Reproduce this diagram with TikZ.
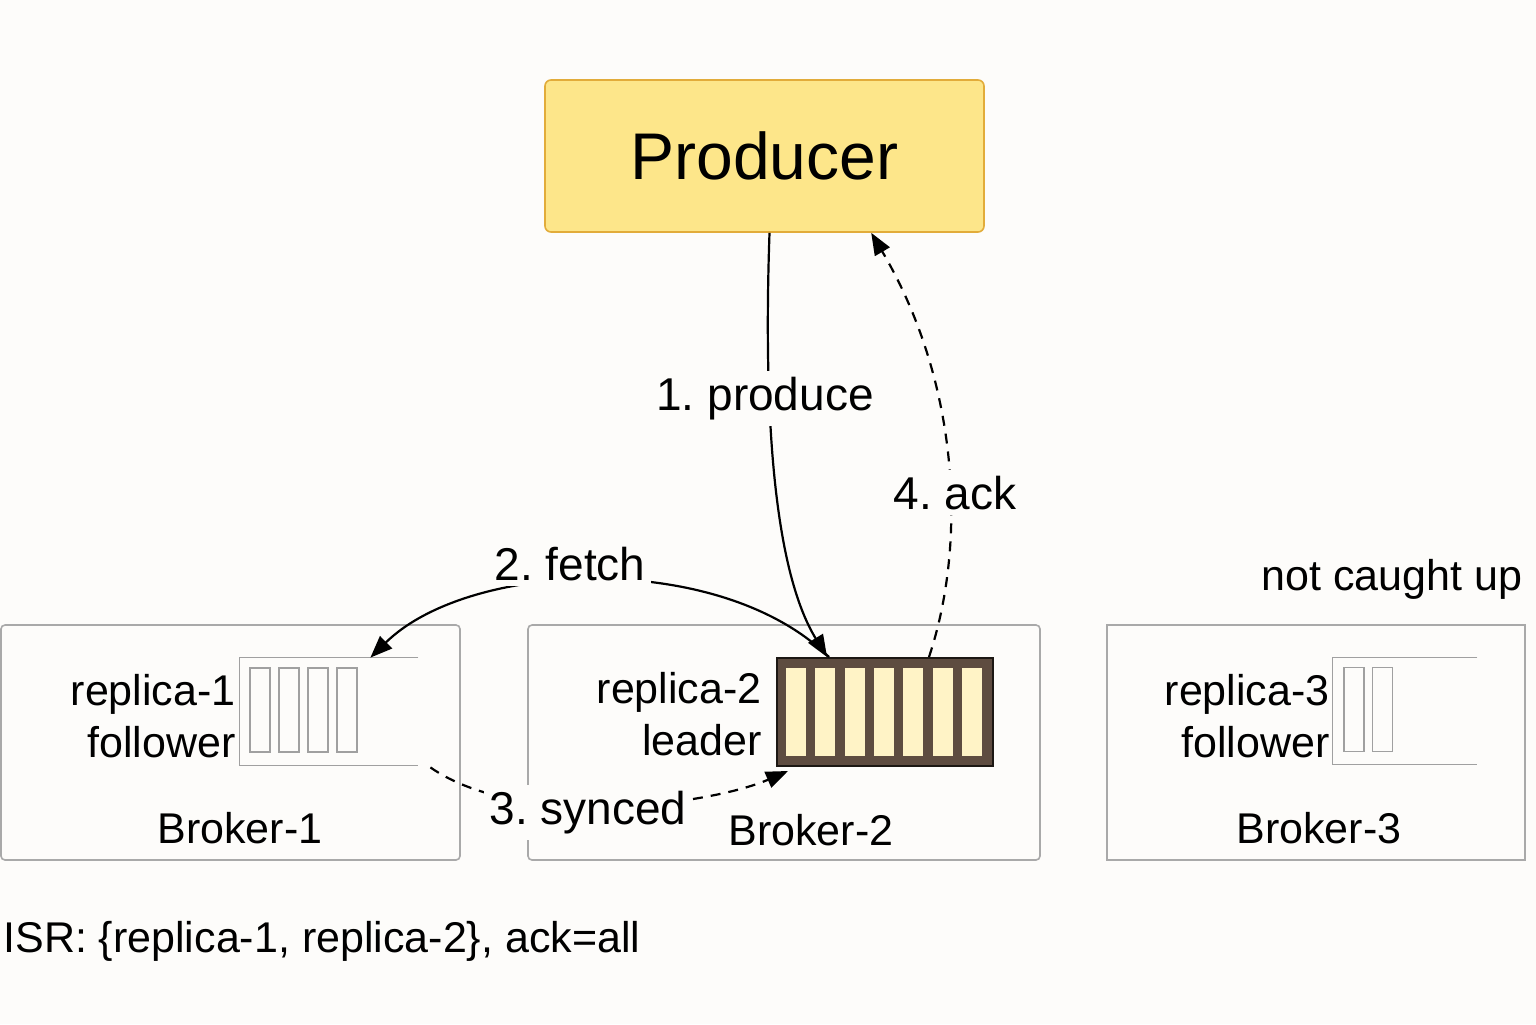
\documentclass[tikz,border=0pt]{standalone}
\usepackage{fontspec}
\setmainfont{Liberation Sans}
\usetikzlibrary{shapes,arrows.meta,positioning,calc}
\frenchspacing

\definecolor{bgpaper}{HTML}{FDFCFA}
\definecolor{prodfill}{HTML}{FDE68A}
\definecolor{prodline}{HTML}{E2AC3A}
\definecolor{brokerline}{HTML}{A9A9A9}
\definecolor{loggray}{HTML}{A0A0A0}
\definecolor{logbrown}{HTML}{5E4C40}
\definecolor{cellcream}{HTML}{FFF3C6}

\tikzset{
  broker/.style={draw=brokerline, line width=0.8pt, rounded corners=2pt, minimum height=117.5pt, inner sep=0pt},
  cell/.style={draw=loggray, line width=0.7pt, minimum width=10pt, minimum height=42pt, inner sep=0pt},
  lbl/.style={font=\fontsize{21.5}{26}\selectfont, inner sep=0pt},
  steplbl/.style={font=\fontsize{23}{27}\selectfont, fill=bgpaper, inner sep=3pt},
  flow/.style={line width=1.1pt, -{Triangle[length=11pt,width=8.5pt]}},
}

\begin{document}
\begin{tikzpicture}[x=0.5pt, y=-0.5pt]

% Page
\fill[bgpaper] (0,0) rectangle (1536,1024);
\useasboundingbox (0,0) rectangle (1536,1024);

% Producer
\node[draw=prodline, fill=prodfill, line width=0.8pt, rounded corners=3pt, minimum width=219.5pt, minimum height=76pt, font=\fontsize{33}{40}\selectfont] (producer) at (764.5,156) {Producer};

% Brokers
\node[broker, minimum width=229.5pt] (broker1) at (230.5,742.5) {};
\node[broker, minimum width=256pt] (broker2) at (784,742.5) {};
\node[broker, minimum width=209pt, rounded corners=0pt] (broker3) at (1316,742.5) {};

% Replica logs
\node[minimum width=89pt, minimum height=53.5pt, inner sep=0pt] (log1) at (329,711.5) {};
\draw[loggray, line width=0.7pt] (log1.north east) -- (log1.north west) -- (log1.south west) -- (log1.south east);
\foreach \i in {0,1,2,3} {
  \pgfmathsetmacro{\x}{260 + \i*29}
  \node[cell] (cellA\i) at (\x, 710) {};
}

\node[draw=black!70!logbrown, fill=logbrown, line width=1pt, minimum width=108pt, minimum height=54pt, inner sep=0pt] (log2) at (885,712) {};
\foreach \i in {0,1,...,6} {
  \pgfmathsetmacro{\x}{796 + \i*29.3}
  \node[cell, draw=none, fill=cellcream, minimum height=44pt] (cellB\i) at (\x, 712) {};
}

\node[minimum width=72pt, minimum height=53pt, inner sep=0pt] (log3) at (1405,711) {};
\draw[loggray, line width=0.7pt] (log3.north east) -- (log3.north west) -- (log3.south west) -- (log3.south east);
\foreach \i in {0,1} {
  \pgfmathsetmacro{\x}{1354 + \i*28.5}
  \node[cell] (cellC\i) at (\x, 709.5) {};
}

% Replica and broker names
\node[lbl, align=right, anchor=east] (rep1) at (236,716) {replica-1\\follower};
\node[lbl, align=right, anchor=east] (rep2) at (762,714) {replica-2\\leader};
\node[lbl, align=right, anchor=east] (rep3) at (1330,716) {replica-3\\follower};
\node[lbl, anchor=base] (bname1) at (240,843) {Broker-1};
\node[lbl, anchor=base] (bname2) at (811,845) {Broker-2};
\node[lbl, anchor=base] (bname3) at (1319,843) {Broker-3};
\node[lbl, anchor=base] (lagging) at (1392,590) {not caught up};
\node[lbl, anchor=base west] (isr) at (3,952) {ISR: \{replica-1, replica-2\}, ack=all};

% Flows
\draw[flow] ([xshift=2.5pt]producer.south) .. controls (762,450) and (780,580) .. ([xshift=25.5pt]log2.north west);
\draw[flow, dash pattern=on 5pt off 4pt] ([xshift=76.5pt]log2.north west) .. controls (968,540) and (958,380) .. ([xshift=163.5pt]producer.south west);
\draw[flow] ([xshift=26.5pt]log2.north west) .. controls (720,550) and (470,560) .. ([xshift=-24pt]log1.north east);
\draw[flow, dash pattern=on 5pt off 4pt] ([xshift=6pt,yshift=-1pt]log1.south east) .. controls (520,830) and (710,805) .. ([xshift=6pt,yshift=-2pt]log2.south west);

% Step labels
\node[steplbl, anchor=base] (sproduce) at (765,410) {1. produce};
\node[steplbl, anchor=base] (sfetch) at (570,580) {2. fetch};
\node[steplbl, anchor=base] (ssynced) at (588,824) {3. synced};
\node[steplbl, anchor=base] (sack) at (955,509) {4. ack};

\end{tikzpicture}
\end{document}
